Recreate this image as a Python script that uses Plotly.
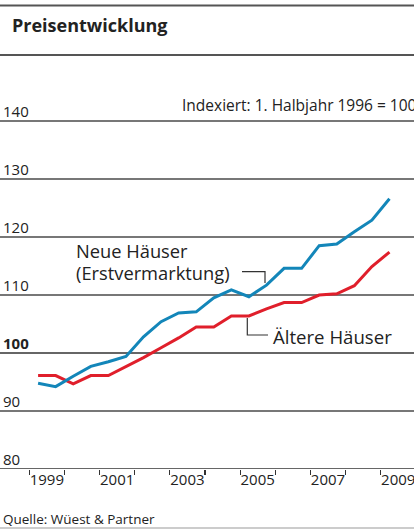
import plotly.graph_objects as go

# ---- data ----
periods = [1999.25 + 0.5 * i for i in range(21)]  # half-year midpoints, 1999 H1 .. 2009 H1
neue = [94.8, 94.2, 96.0, 97.7, 98.5, 99.4, 102.8, 105.4, 106.9, 107.1, 109.5,
        110.9, 109.7, 111.7, 114.6, 114.6, 118.5, 118.8, 120.9, 122.9, 126.6]
aeltere = [96.1, 96.1, 94.7, 96.1, 96.1, 97.6, 99.2, 100.9, 102.6, 104.5, 104.5,
           106.4, 106.4, 107.6, 108.7, 108.7, 110.0, 110.2, 111.6, 114.9, 117.4]
y_ticks = [80, 90, 100, 110, 120, 130, 140]
y_ticktext = ["80", "90", "<b>100</b>", "110", "120", "130", "140"]
x_label_years = [1999, 2001, 2003, 2005, 2007, 2009]
x_tick_years = list(range(1999, 2010))

W, H = 414, 530
PLOT_TOP, PLOT_BOTTOM = 63, 469  # pixel rows of the plotting area
FONT = "Open Sans"
BLUE = "#1386b9"
RED = "#e01f2b"
GRID = "#4a4a4a"
TXT = "#222"


def py(px):  # pixel from top -> paper y (paper spans whole figure)
    return 1 - px / H


def pxx(px):  # pixel from left -> paper x
    return px / W


fig = go.Figure()

# gridlines (below the data)
for v in y_ticks:
    fig.add_shape(type="line", xref="paper", yref="y", x0=0, x1=1, y0=v, y1=v,
                  line=dict(color="#333" if v in (80, 100) else GRID, width=1.4),
                  layer="below")

fig.add_trace(go.Scatter(x=periods, y=aeltere, mode="lines",
                         line=dict(color=RED, width=3), hoverinfo="skip"))
fig.add_trace(go.Scatter(x=periods, y=neue, mode="lines",
                         line=dict(color=BLUE, width=3), hoverinfo="skip"))

fig.update_layout(
    width=W, height=H,
    margin=dict(l=0, r=0, t=0, b=0, autoexpand=False),
    plot_bgcolor="rgba(0,0,0,0)", paper_bgcolor="white",
    showlegend=False,
    hovermode=False,
    font=dict(family=FONT, color=TXT),
    title=dict(text="<b>Preisentwicklung</b>", x=12 / W, xanchor="left",
               y=1 - 26 / H, yanchor="middle",
               font=dict(family=FONT, size=18, color=TXT)),
    xaxis=dict(range=[1998.166, 2009.948], showgrid=False, zeroline=False,
               automargin=False, domain=[0, 1],
               tickvals=[y + 0.5 for y in x_label_years],
               ticktext=[str(y) for y in x_label_years],
               ticks="", tickfont=dict(size=15, color=TXT),
               ticklabeloverflow="allow",
               showline=False,
               minor=dict(tickvals=x_tick_years, ticks="outside", ticklen=5,
                          tickcolor="#333", tickwidth=1.2, showgrid=False),
               fixedrange=True),
    yaxis=dict(range=[80, 150], showgrid=False, zeroline=False,
               domain=[py(PLOT_BOTTOM), py(PLOT_TOP)],
               showticklabels=False, ticks="", automargin=False,
               showline=False, fixedrange=True),
)

# y tick labels above their gridlines
for v, t in zip(y_ticks, y_ticktext):
    fig.add_annotation(xref="paper", yref="y", x=pxx(1), y=v, yshift=10,
                       xanchor="left", yanchor="middle", showarrow=False,
                       text=t, font=dict(size=15, color=TXT))

# header rules and bottom rule
for yy, col, w in [(5.5, "#555", 2), (55, "#555", 2), (528, "#bbb", 1.5)]:
    fig.add_shape(type="line", xref="paper", yref="paper", x0=0, x1=1,
                  y0=py(yy), y1=py(yy), line=dict(color=col, width=w),
                  layer="above")

# annotations
fig.add_annotation(xref="paper", yref="paper", x=pxx(180), y=py(105),
                   xanchor="left", yanchor="middle", showarrow=False,
                   text="Indexiert: 1. Halbjahr 1996 = 100",
                   font=dict(size=15.5, color=TXT))
fig.add_annotation(xref="paper", yref="paper", x=pxx(1), y=py(519),
                   xanchor="left", yanchor="middle", showarrow=False,
                   text="Quelle: Wüest & Partner", font=dict(size=13.5, color=TXT))
fig.add_annotation(xref="paper", yref="paper", x=pxx(74), y=py(250),
                   xanchor="left", yanchor="middle", showarrow=False,
                   text="Neue Häuser", font=dict(size=18.3, color=TXT))
fig.add_annotation(xref="paper", yref="paper", x=pxx(74), y=py(272),
                   xanchor="left", yanchor="middle", showarrow=False,
                   text="(Erstvermarktung)", font=dict(size=18.3, color=TXT))
fig.add_annotation(xref="paper", yref="paper", x=pxx(271), y=py(336),
                   xanchor="left", yanchor="middle", showarrow=False,
                   text="Ältere Häuser", font=dict(size=18.6, color=TXT))

# connector lines
conn = dict(color="#333", width=1.2)
fig.add_shape(type="path", xref="paper", yref="paper",
              path=f"M {pxx(242)} {py(271.7)} L {pxx(265)} {py(271.7)} L {pxx(265)} {py(283)}",
              line=conn)
fig.add_shape(type="path", xref="paper", yref="paper",
              path=f"M {pxx(247.3)} {py(318)} L {pxx(247.3)} {py(335)} L {pxx(268)} {py(335)}",
              line=conn)

fig.write_html("out.html", config={"displayModeBar": False, "staticPlot": True},
               post_script="document.body.style.margin='0';")
